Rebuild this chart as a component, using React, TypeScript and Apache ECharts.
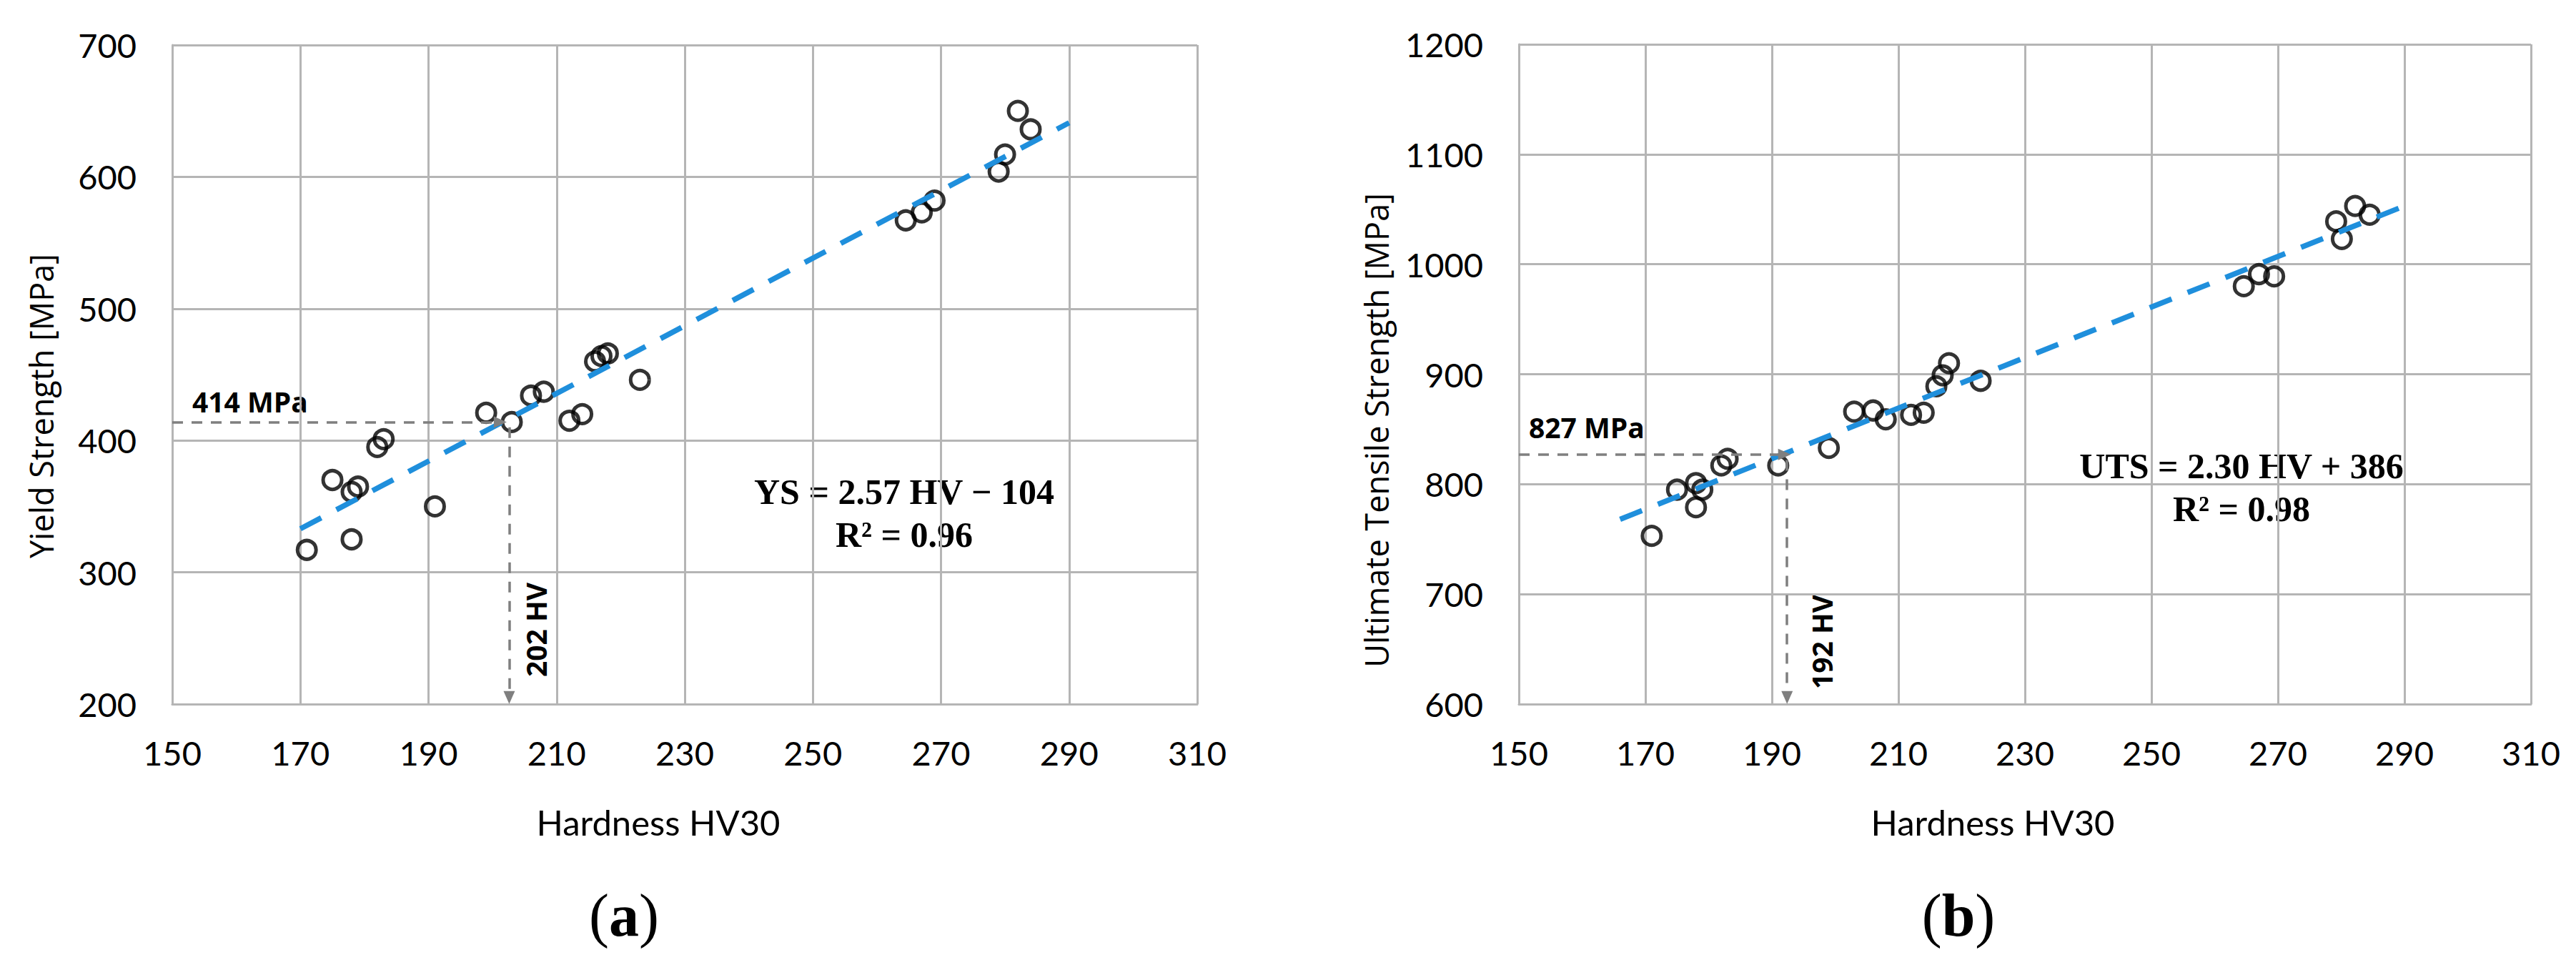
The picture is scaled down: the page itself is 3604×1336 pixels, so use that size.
import React, { useEffect, useRef } from 'react';
import * as echarts from 'echarts';

// ---------- data ----------
const hardnessYS = [171, 175, 178, 178, 179, 182, 183, 191, 199, 203, 206, 208, 212, 214, 216, 217, 218, 223, 264.5, 267, 269, 279, 280, 282, 284];
const yieldStrength = [317, 370, 325, 361, 365, 395, 401, 350, 421, 414, 434, 437, 415, 420, 460, 464, 466, 446, 567, 573, 582, 604, 617, 650, 636];

const hardnessUTS = [171, 175, 178, 178, 179, 182, 183, 191, 199, 203, 206, 208, 212, 214, 216, 217, 218, 223, 264.6, 267, 269.4, 279.2, 280.1, 282.2, 284.5];
const tensileStrength = [753, 795, 779, 801, 795, 817, 823, 817, 833, 866, 867, 859, 863, 865, 889, 899, 910, 894, 980, 991, 989, 1039, 1023, 1053, 1045];

// trend line end points (HV, MPa)
const ysTrend = [[170, 333], [290, 641]];
const utsTrend = [[166, 768], [290, 1053]];

// guide (read-off) lines: [HV, MPa]
const ysGuide = { hv: 202.6, hvArrow: 201.2, mpa: 414, mpaStart: 410, bottom: 205 };
const utsGuide = { hv: 192.4, hvArrow: 192.0, mpa: 827, mpaStart: 822, bottom: 606 };

const xTicks = { min: 150, max: 310, interval: 20 };
const ysTicks = { min: 200, max: 700, interval: 100 };
const utsTicks = { min: 600, max: 1200, interval: 100 };

const ysLabels = { yTitle: 'Yield Strength [MPa]', xTitle: 'Hardness HV30', eq: 'YS = 2.57 HV − 104', r2: 'R² = 0.96', guideMPa: '414 MPa', guideHV: '202 HV', tag: 'a' };
const utsLabels = { yTitle: 'Ultimate Tensile Strength [MPa]', xTitle: 'Hardness HV30', eq: 'UTS = 2.30 HV + 386', r2: 'R² = 0.98', guideMPa: '827 MPa', guideHV: '192 HV', tag: 'b' };

// ---------- styles ----------
const GRID_COLOR = '#b5b5b5';
const BLUE = '#1f8fdc';
const GUIDE = '#7f7f7f';

const plain = (v: number) => String(v);

function makeX(gridIndex: number) {
  return {
    type: 'value',
    gridIndex,
    min: xTicks.min,
    max: xTicks.max,
    interval: xTicks.interval,
    axisLine: { show: true, onZero: false, lineStyle: { color: GRID_COLOR, width: 3 } },
    axisTick: { show: false },
    splitLine: { show: true, lineStyle: { color: GRID_COLOR, width: 3 } },
    axisLabel: { fontFamily: 'Lato', fontSize: 47, color: '#000', margin: 44, formatter: plain },
  };
}
function makeY(gridIndex: number, t: { min: number; max: number; interval: number }) {
  return {
    type: 'value',
    gridIndex,
    min: t.min,
    max: t.max,
    interval: t.interval,
    axisLine: { show: true, onZero: false, lineStyle: { color: GRID_COLOR, width: 3 } },
    axisTick: { show: false },
    splitLine: { show: true, lineStyle: { color: GRID_COLOR, width: 3 } },
    axisLabel: { fontFamily: 'Lato', fontSize: 47, color: '#000', margin: 50, formatter: plain },
  };
}

function scatterSeries(idx: number, xs: number[], ys: number[]) {
  return {
    type: 'scatter',
    xAxisIndex: idx,
    yAxisIndex: idx,
    data: xs.map((x, i) => [x, ys[i]]),
    symbol: 'circle',
    symbolSize: 26,
    itemStyle: { color: 'rgba(0,0,0,0)', borderColor: '#000', borderWidth: 5 },
    silent: true,
    z: 3,
  };
}

function trendSeries(idx: number, pts: number[][], g: any) {
  return {
    type: 'line',
    xAxisIndex: idx,
    yAxisIndex: idx,
    data: pts,
    showSymbol: false,
    symbol: 'none',
    lineStyle: { color: BLUE, width: 7.5, type: [33, 24] },
    silent: true,
    z: 4,
    markLine: {
      silent: true,
      symbol: ['none', 'triangle'],
      symbolSize: [16, 18],
      label: { show: false },
      lineStyle: { color: GUIDE, width: 3.5, type: [15, 12] },
      data: [
        [{ coord: [xTicks.min, g.mpa] }, { coord: [g.hvArrow, g.mpa] }],
        [{ coord: [g.hv, g.mpaStart] }, { coord: [g.hv, g.bottom] }],
      ],
    },
  };
}

const boldSans = { fontFamily: 'Open Sans', fontWeight: 'bold', fontSize: 39, fill: '#000' };
const eqFont = { fontFamily: 'Liberation Serif', fontWeight: 'bold', fontSize: 50, fill: '#000' };

function texts(L: any, pos: any) {
  return [
    { type: 'text', x: pos.yTitle[0], y: pos.yTitle[1], rotation: Math.PI / 2, style: { text: L.yTitle, fontFamily: 'Open Sans', fontSize: 45, fill: '#000', align: 'center', verticalAlign: 'middle' } },
    { type: 'text', x: pos.xTitle[0], y: pos.xTitle[1], style: { text: L.xTitle, fontFamily: 'Lato', fontSize: 49, fill: '#000', align: 'center', verticalAlign: 'middle' } },
    { type: 'text', x: pos.guideMPa[0], y: pos.guideMPa[1], style: { ...boldSans, text: L.guideMPa, align: 'left', verticalAlign: 'middle' } },
    { type: 'text', x: pos.guideHV[0], y: pos.guideHV[1], rotation: Math.PI / 2, style: { ...boldSans, text: L.guideHV, align: 'center', verticalAlign: 'middle' } },
    { type: 'text', x: pos.eq[0], y: pos.eq[1], style: { ...eqFont, text: L.eq, align: 'center', verticalAlign: 'middle' } },
    { type: 'text', x: pos.r2[0], y: pos.r2[1], style: { ...eqFont, text: L.r2, align: 'center', verticalAlign: 'middle' } },
    {
      type: 'text', x: pos.tag[0], y: pos.tag[1],
      style: {
        text: '{p|(}{b|' + L.tag + '}{p|)}', align: 'center', verticalAlign: 'middle',
        rich: {
          p: { fontFamily: 'Liberation Serif', fontSize: 84, fill: '#000' },
          b: { fontFamily: 'Liberation Serif', fontSize: 84, fontWeight: 'bold', fill: '#000' },
        },
      },
    },
  ];
}

export default function App() {
  const ref = useRef<HTMLDivElement>(null);
  useEffect(() => {
    if (!ref.current) return;
    const chart = echarts.init(ref.current, undefined, { renderer: 'svg' });
    const option: any = {
      animation: false,
      backgroundColor: '#fff',
      grid: [
        { left: 241, top: 63, width: 1434, height: 922 },
        { left: 2125, top: 62, width: 1416, height: 923 },
      ],
      xAxis: [makeX(0), makeX(1)],
      yAxis: [makeY(0, ysTicks), makeY(1, utsTicks)],
      series: [
        scatterSeries(0, hardnessYS, yieldStrength),
        trendSeries(0, ysTrend, ysGuide),
        scatterSeries(1, hardnessUTS, tensileStrength),
        trendSeries(1, utsTrend, utsGuide),
      ],
      graphic: [
        ...texts(ysLabels, {
          yTitle: [57, 568], xTitle: [921, 1150], guideMPa: [269, 561], guideHV: [749, 881],
          eq: [1265, 688], r2: [1265, 748], tag: [873, 1280],
        }),
        ...texts(utsLabels, {
          yTitle: [1925, 602], xTitle: [2788, 1150], guideMPa: [2139, 597], guideHV: [2548, 898],
          eq: [3136, 652], r2: [3136, 712], tag: [2740, 1280],
        }),
      ],
    };
    chart.setOption(option);
    return () => chart.dispose();
  }, []);
  return (
    <div
      ref={ref}
      style={{ position: 'fixed', left: 0, top: 0, width: 3604, height: 1336, background: '#fff' }}
    />
  );
}
